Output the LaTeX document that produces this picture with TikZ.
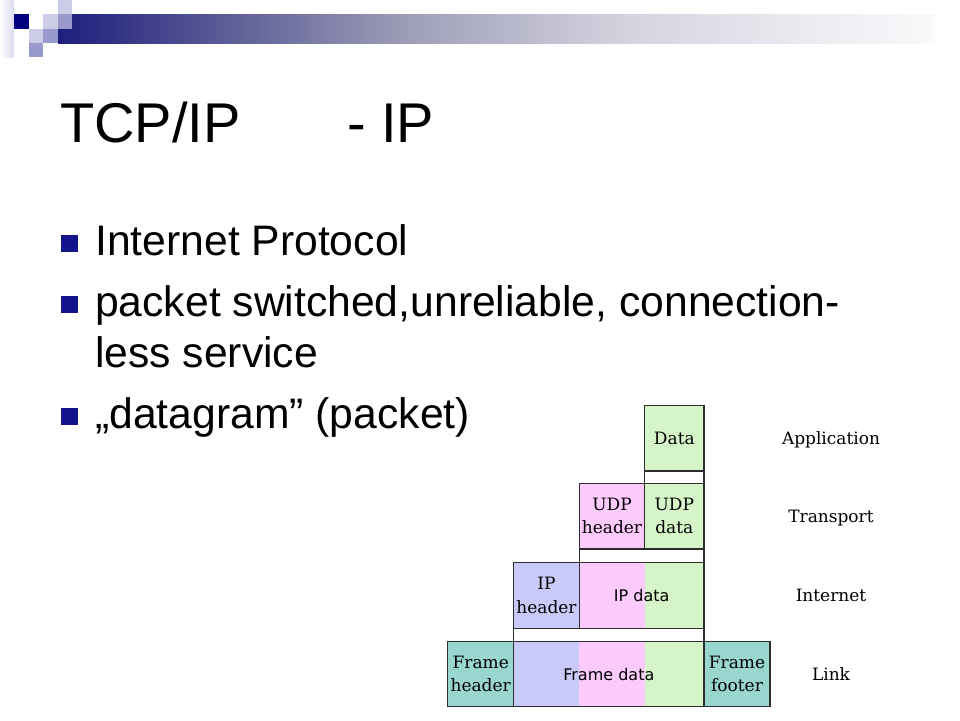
\documentclass[tikz,border=0pt]{standalone}
\usepackage{fontspec}
\setmainfont{Liberation Sans}
\newfontfamily\dserif{DejaVu Serif}
\newfontfamily\dsans{DejaVu Sans}
\definecolor{navyS}{RGB}{0,0,128}
\definecolor{lavA}{RGB}{204,204,232}
\definecolor{lavB}{RGB}{153,153,204}
\definecolor{bulcol}{RGB}{20,20,140}
\definecolor{barL}{RGB}{30,30,125}
\definecolor{barA}{RGB}{95,95,152}
\definecolor{barB}{RGB}{158,158,184}
\definecolor{barC}{RGB}{212,212,224}
\definecolor{barR}{RGB}{250,250,252}
\definecolor{gr}{RGB}{213,245,200}
\definecolor{pk}{RGB}{252,202,252}
\definecolor{bl}{RGB}{202,202,250}
\definecolor{tl}{RGB}{153,214,208}
\definecolor{boxline}{RGB}{45,45,45}
\pgfdeclarehorizontalshading{barshade}{100bp}{color(0bp)=(barL); color(25bp)=(barL); color(35bp)=(barA); color(45bp)=(barB); color(57.5bp)=(barC); color(75bp)=(barR); color(100bp)=(barR)}
\begin{document}
\begin{tikzpicture}[x=1pt,y=-1pt,
  box/.style={draw=boxline, line width=1.4, inner sep=0pt, outer sep=0pt, align=center,
    font=\dserif\fontsize{17}{23.3}\selectfont},
  sansbox/.style={box, font=\dsans\fontsize{16}{19}\selectfont},
  lay/.style={anchor=base, inner sep=0pt, font=\dserif\fontsize{17}{20}\selectfont},
  bul/.style={fill=bulcol, minimum size=17, inner sep=0pt, outer sep=0pt},
  btext/.style={anchor=base west, inner sep=0pt, align=left, font=\fontsize{42.67}{51}\selectfont}]
\useasboundingbox (0,0) rectangle (960,720);
\fill[white] (0,0) rectangle (960,720);
% corner decoration
\shade[left color=white, right color=lavA!70] (0,0) rectangle (14,57);
\shade[shading=barshade] (58,14) rectangle (935,43);
\fill[navyS] (14,14) rectangle (29,29);
\fill[lavA] (43,14) rectangle (58,29);
\fill[lavA] (58,0) rectangle (72,14);
\fill[lavB] (58,14) rectangle (72,29);
\fill[lavA] (29,29) rectangle (43,43);
\fill[lavB] (43,29) rectangle (58,43);
\fill[lavB] (29,43) rectangle (43,57);
% title
\node[anchor=base west, inner sep=0pt, font=\fontsize{56}{60}\selectfont] (title) at (60,142)
  {\makebox[287pt][l]{TCP/IP}- IP};
% bullets
\node[bul] (b1) at (69.5,243) {};
\node[btext] (t1) at (95,255) {Internet Protocol};
\node[bul] (b2) at (69.5,304) {};
\node[btext] (t2) at (95,367) {packet switched,unreliable, connection-\\less service};
\node[bul] (b3) at (69.5,416) {};
\node[btext] (t3) at (95,428) {„datagram” (packet)};
% diagram
\node[box, fill=gr, minimum width=59.3, minimum height=65.3] (data) at (674.35,438.35) {Data};
\node[box, fill=white, minimum width=59.3, minimum height=12.3] (g1) at (674.35,477.15) {};
\node[box, fill=pk, minimum width=65.4, minimum height=65.7] (udph) at (612,516.15) {UDP\\header};
\node[box, fill=gr, minimum width=59.3, minimum height=65.7] (udpd) at (674.35,516.15) {UDP\\data};
\node[box, fill=white, minimum width=124.7, minimum height=13.3] (g2) at (641.65,555.65) {};
\node[box, fill=bl, minimum width=65.6, minimum height=66] (iph) at (546.5,595.3) {IP\\header};
\fill[pk] (579.3,562.3) rectangle (644.7,628.3);
\fill[gr] (644.7,562.3) rectangle (704,628.3);
\node[sansbox, minimum width=124.7, minimum height=66] (ipd) at (641.65,595.3) {IP data};
\node[box, fill=white, minimum width=190.3, minimum height=13.4] (g3) at (608.85,635) {};
\node[box, fill=tl, minimum width=66, minimum height=65] (fh) at (480.7,674.2) {Frame\\header};
\fill[bl] (513.7,641.7) rectangle (579.3,706.7);
\fill[pk] (579.3,641.7) rectangle (644.7,706.7);
\fill[gr] (644.7,641.7) rectangle (704,706.7);
\node[sansbox, minimum width=190.3, minimum height=65] (fd) at (608.85,674.2) {Frame data};
\node[box, fill=tl, minimum width=66, minimum height=65] (ff) at (737,674.2) {Frame\\footer};
% layer labels
\node[lay] (lapp) at (831,444.5) {Application};
\node[lay] (ltr) at (831,522.4) {Transport};
\node[lay] (lint) at (831,601.5) {Internet};
\node[lay] (llink) at (831,680.4) {Link};
\end{tikzpicture}
\end{document}
